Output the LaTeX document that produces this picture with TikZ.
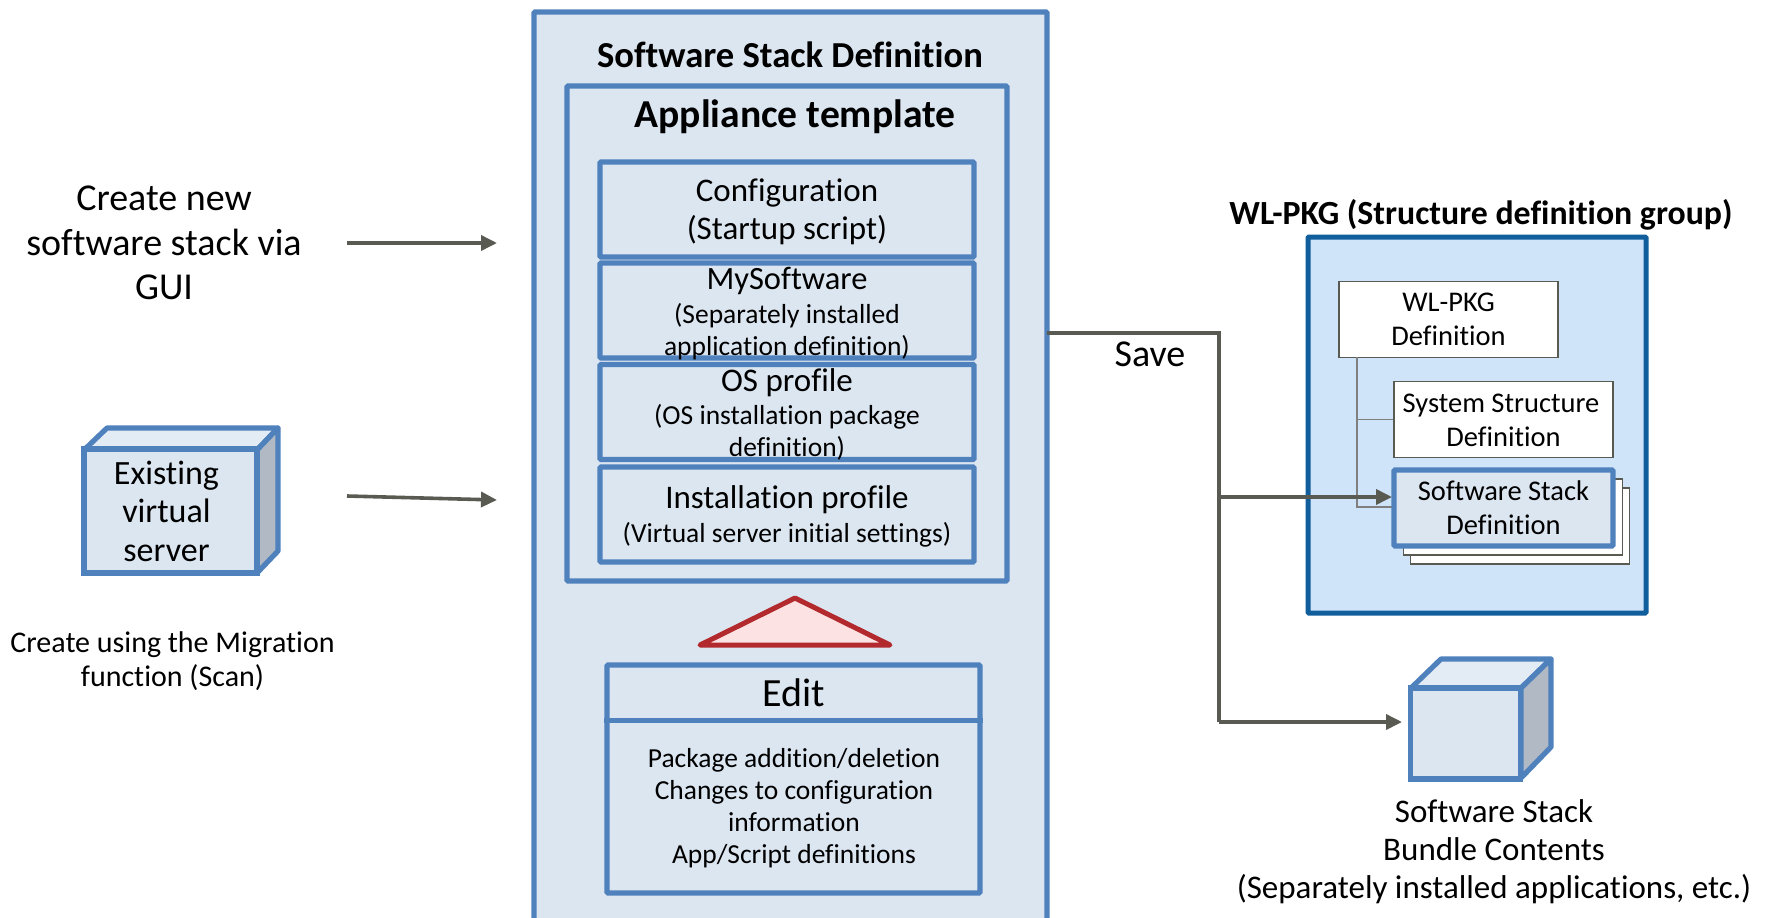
\documentclass[tikz,border=0pt]{standalone}
\usepackage{fontspec}
\setmainfont{Carlito}[Ligatures=NoCommon]
\usetikzlibrary{arrows.meta}
\definecolor{boxblue}{HTML}{4F81BD}
\definecolor{boxfill}{HTML}{DCE6F1}
\definecolor{groupblue}{HTML}{115E9C}
\definecolor{groupfill}{HTML}{CFE4F9}
\definecolor{linegray}{HTML}{595A52}
\definecolor{treegray}{HTML}{7F7F7F}
\definecolor{warnred}{HTML}{B22A2E}
\definecolor{warnfill}{HTML}{FCE2E2}
\definecolor{cubetop}{HTML}{E3EBF5}
\definecolor{cubeside}{HTML}{B1B9C4}
\tikzset{
  bluebox/.style={draw=boxblue, line width=5.2, fill=boxfill, rounded corners=1, inner sep=0},
  whitebox/.style={draw=linegray, line width=1.8, fill=white, inner sep=0, minimum width=219, minimum height=76, align=center, font=\fontsize{28.5}{34}\selectfont},
  bigtext/.style={align=center, inner sep=0, font=\fontsize{38}{44.6}\selectfont},
  midtext/.style={align=center, inner sep=0, font=\fontsize{33}{38}\selectfont},
  smalltext/.style={align=center, inner sep=0, font=\fontsize{27.5}{32}\selectfont},
  boldtext/.style={align=center, inner sep=0, font=\bfseries\fontsize{36.6}{40}\selectfont},
  arrowline/.style={draw=linegray, line width=3.6, -{Triangle[length=16pt,width=15pt]}},
  treeline/.style={draw=treegray, line width=1.8},
  cubeline/.style={draw=boxblue, line width=5.2, line join=round}
}
\begin{document}
\begin{tikzpicture}[x=1pt, y=-1pt]
\path[use as bounding box, clip] (0,0) rectangle (1765,918);

\node[bluebox, minimum width=513, minimum height=930] (stackdef) at (790.5,477) {};
\node[boldtext] (stacktitle) at (790,55) {Software Stack Definition};
\node[bluebox, minimum width=440, minimum height=495] (template) at (787,333.5) {};
\node[boldtext, font=\bfseries\fontsize{39.6}{46}\selectfont] (templatetitle) at (795,116.5) {Appliance template};

\node[bluebox, minimum width=374, minimum height=95] (configbox) at (787,209.5) {};
\node[midtext] (configtext) at (787,211.5) {Configuration\\(Startup script)};
\node[bluebox, minimum width=374, minimum height=95] (softbox) at (787,310.5) {};
\node[midtext, font=\fontsize{32.5}{38}\selectfont] (softtitle) at (787,281) {MySoftware};
\node[smalltext] (softtext) at (787,332) {(Separately installed\\application definition)};
\node[bluebox, minimum width=374, minimum height=95] (osbox) at (787,412) {};
\node[midtext] (ostitle) at (787,383) {OS profile};
\node[smalltext] (ostext) at (787,432.5) {(OS installation package\\definition)};
\node[bluebox, minimum width=374, minimum height=95] (installbox) at (787,514.5) {};
\node[midtext] (installtitle) at (787,500) {Installation profile};
\node[smalltext] (installtext) at (787,535) {(Virtual server initial settings)};

\draw[draw=warnred, fill=warnfill, line width=5, line join=round] (795,598) -- (890,645) -- (700,645) -- cycle;

\node[bluebox, minimum width=373, minimum height=228] (editbox) at (793.5,779) {};
\draw[draw=boxblue, line width=5.2] (editbox.west |- 0,720.5) -- (editbox.east |- 0,720.5);
\node[midtext, font=\fontsize{40}{44}\selectfont] (edittitle) at (794,693) {Edit};
\node[smalltext] (edittext) at (794,808.5) {Package addition/deletion\\Changes to configuration\\information\\App/Script definitions};

\node[bigtext] (guitext) at (164,243) {Create new\\software stack via\\GUI};
\coordinate (guistart) at (347,243);
\coordinate (guiend) at (497,243);
\draw[arrowline] (guistart) -- (guiend);

\draw[cubeline, fill=cubetop] (84,450) -- (107,428) -- (278,428) -- (257,450) -- cycle;
\draw[cubeline, fill=cubeside] (257,450) -- (278,428) -- (278,551) -- (257,573) -- cycle;
\node[draw=boxblue, line width=5.2, fill=boxfill, inner sep=0, minimum width=173, minimum height=124] (servercube) at (170.5,511) {};
\node[align=center, inner sep=0, font=\fontsize{34}{38.5}\selectfont] (servertext) at (166.5,511) {Existing\\virtual\\server};
\node[smalltext, font=\fontsize{30}{34}\selectfont] (scantext) at (172.5,661) {Create using the Migration\\function (Scan)};
\coordinate (scanstart) at (347,496);
\coordinate (scanend) at (497,500);
\draw[arrowline] (scanstart) -- (scanend);

\node[boldtext, font=\bfseries\fontsize{33.8}{40}\selectfont] (grouptitle) at (1481,215) {WL-PKG (Structure definition group)};
\node[draw=groupblue, line width=5, fill=groupfill, rounded corners=1, minimum width=338, minimum height=376] (groupbox) at (1477,425) {};
\node[whitebox] (pkgdef) at (1448.5,319.5) {WL-PKG\\Definition};
\node[whitebox] (sysdef) at (1503.5,419.5) {};
\node[align=center, inner sep=0, font=\fontsize{28.5}{34}\selectfont] (systext) at (1501,420) {System Structure\\\hspace*{5pt}Definition};
\node[whitebox] (pagetwo) at (1520,526) {};
\node[whitebox] (pageone) at (1513,517) {};
\coordinate (treetop) at (1357,357);
\coordinate (treemid) at (1357,419.5);
\coordinate (treeend) at (1357,507);
\draw[treeline] (treetop) -- (treeend) -- (treeend -| sysdef.west);
\draw[treeline] (treemid) -- (sysdef.west);
\node[bluebox, minimum width=219, minimum height=76, align=center, font=\fontsize{28.5}{34}\selectfont] (stackbox) at (1503.5,508) {Software Stack\\Definition};

\coordinate (savestart) at (1047,333);
\coordinate (savedown) at (1219,722);
\coordinate (savemid) at (1219,497);
\coordinate (saveend) at (1392,497);
\coordinate (cubeend) at (1402,722);
\draw[draw=linegray, line width=3.6] (savestart) -| (savedown);
\draw[arrowline] (savemid) -- (saveend);
\draw[arrowline] (savedown) -- (cubeend);
\node[bigtext] (savetext) at (1150,354) {Save};

\draw[cubeline, fill=cubetop] (1411,688) -- (1441,659) -- (1551,659) -- (1521,688) -- cycle;
\draw[cubeline, fill=cubeside] (1521,688) -- (1551,659) -- (1551,747) -- (1521,778) -- cycle;
\node[draw=boxblue, line width=5.2, fill=boxfill, inner sep=0, minimum width=110, minimum height=91] (bundlecube) at (1465.5,733.5) {};
\node[midtext] (bundletext) at (1494,852) {Software Stack\\Bundle Contents\\(Separately installed applications, etc.)};
\end{tikzpicture}
\end{document}
